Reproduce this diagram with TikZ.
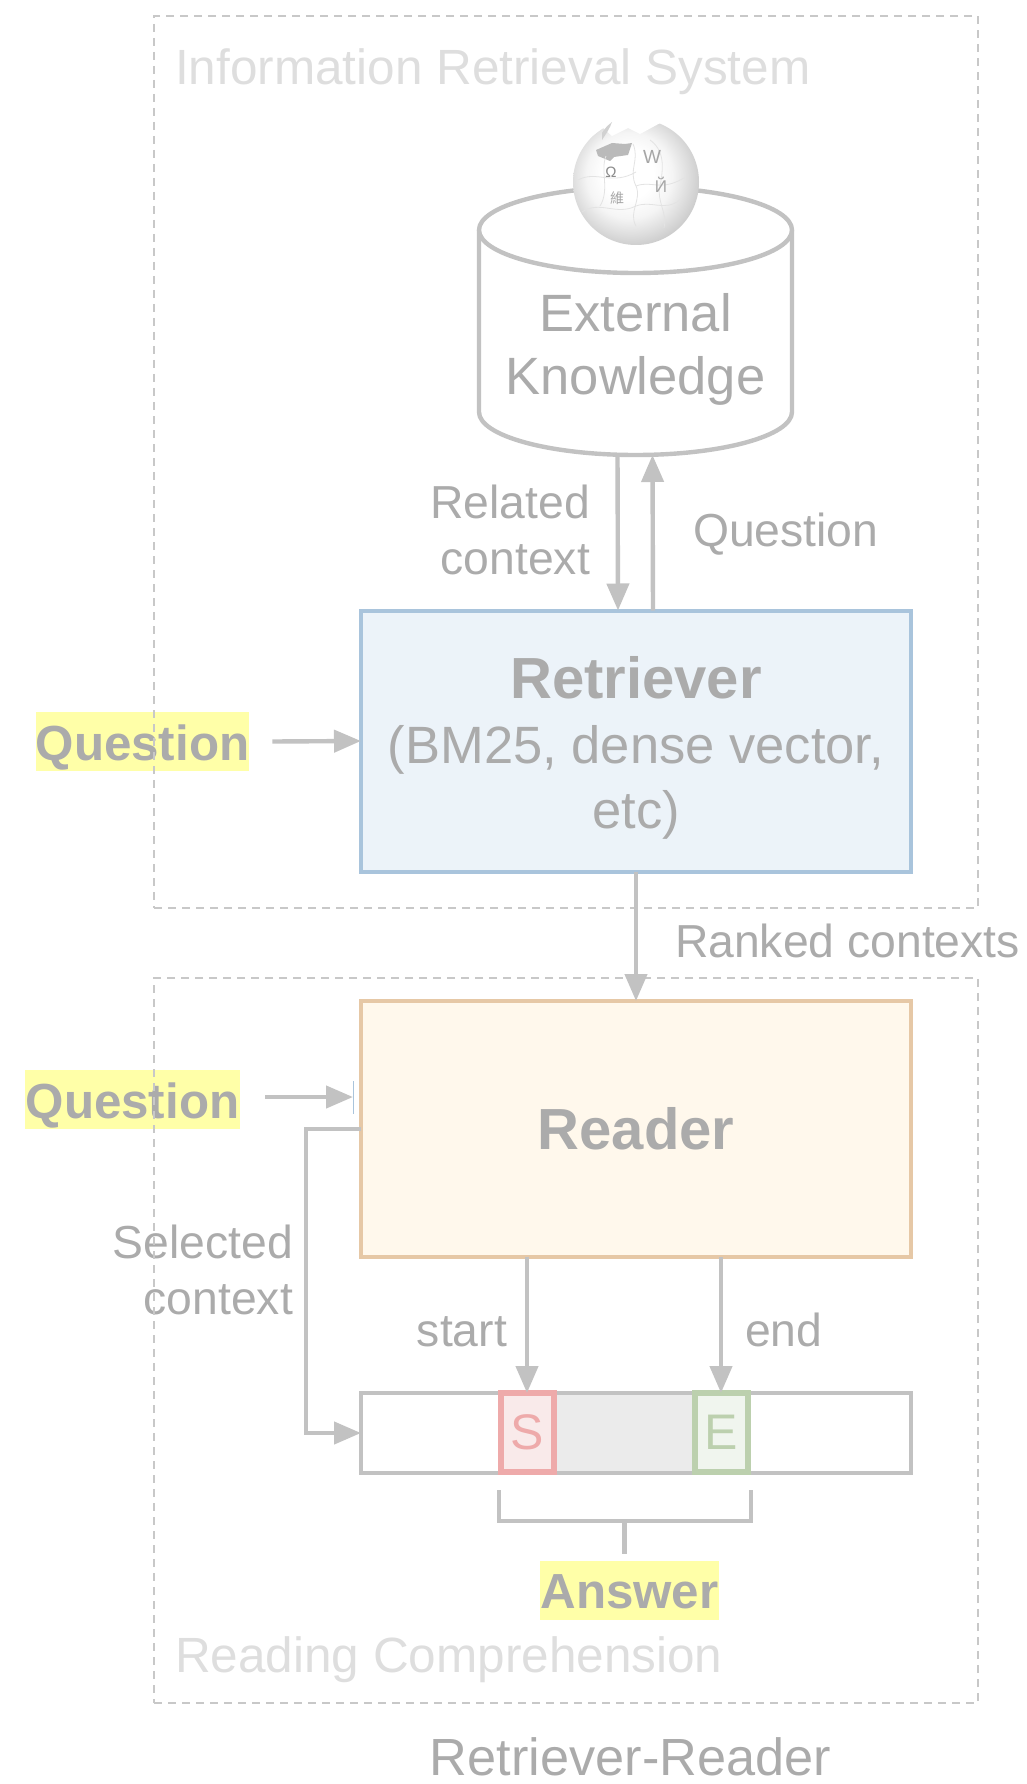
\documentclass[tikz,border=0pt]{standalone}
\usepackage{fontspec}
\setmainfont{Liberation Sans}
\newfontfamily\cjkglyph{Noto Sans CJK SC}
\usetikzlibrary{arrows.meta, positioning, calc}
\definecolor{rrtext}{HTML}{ABABAB}
\definecolor{rrfaint}{HTML}{DEDEDE}
\definecolor{rrline}{HTML}{C2C2C2}
\definecolor{rrdash}{HTML}{C8C8C8}
\definecolor{rryellow}{HTML}{FFFFA8}
\definecolor{rrblue}{HTML}{A9C4DC}
\definecolor{rrbluefill}{HTML}{ECF3F9}
\definecolor{rrorange}{HTML}{E6C8A6}
\definecolor{rrorangefill}{HTML}{FFF8EC}
\definecolor{rrred}{HTML}{EEAAAA}
\definecolor{rrredfill}{HTML}{F9EAEA}
\definecolor{rrgreen}{HTML}{BCD0AE}
\definecolor{rrgreenfill}{HTML}{F0F5EE}
\definecolor{rrspan}{HTML}{EBEBEB}
\pgfdeclareradialshading{globeshade}{\pgfpoint{-4bp}{4bp}}{color(0bp)=(white); color(10bp)=(white); color(17bp)=(black!4); color(23bp)=(black!13); color(30bp)=(black!24); color(50bp)=(black!24)}

\begin{document}
\begin{tikzpicture}[
  x=1pt, y=-1pt,
  every node/.style={inner sep=0pt, outer sep=0pt, text=rrtext},
  label/.style={align=center, font=\fontsize{46.3}{56}\selectfont},
  title/.style={text=rrfaint, anchor=base west, font=\fontsize{49.5}{60}\selectfont},
  hilite/.style={fill=rryellow, minimum height=59pt, text height=38.5pt, text depth=1pt, font=\fontsize{49.3}{60}\selectfont\bfseries},
  panel/.style={draw=rrdash, line width=2pt, dash pattern=on 8pt off 6pt, minimum width=824pt},
  block/.style={rectangle, draw=#1, line width=4pt, minimum width=550pt, align=center, font=\fontsize{52.5}{65}\selectfont},
  marker/.style={rectangle, draw=#1, line width=6pt, minimum width=53pt, minimum height=79pt, font=\fontsize{50}{60}\selectfont},
  wire/.style={draw=rrline, line width=4.4pt, line join=miter},
  puzzle/.style={draw=black!11, line width=.8pt},
  arrow/.style={wire, -{Triangle[length=27pt, width=22pt]}},
]
\useasboundingbox (0,0) rectangle (1026,1784);

% Highlighted words sit under the dashed panels
\node[hilite, minimum width=213pt] (questionA) at (142.5,741.5) {Question};
\node[hilite, minimum width=215pt] (questionB) at (132.5,1099.5) {Question};
\node[label, align=right, anchor=east] (selected) at (293,1270) {Selected\\context};

\node[panel, minimum height=892pt] (irpanel) at (566,462) {};
\node[panel, minimum height=725pt] (rcpanel) at (566,1340.5) {};
\node[title] (irtitle) at (175,85) {Information Retrieval System};
\node[title] (rctitle) at (175,1672) {Reading Comprehension};

% Knowledge store
\draw[wire, fill=white] (479,230) -- (479,412) arc[start angle=180, end angle=0, x radius=156.5, y radius=43] -- (792,230);
\draw[wire, fill=white] (635.5,230) ellipse[x radius=156.5, y radius=43];
\node[minimum width=313pt, minimum height=212pt, label, font=\fontsize{52.5}{63}\selectfont] (knowledge) at (635.5,349) {External\\Knowledge};

% Globe
\shade[shading=globeshade] (636,182) circle[radius=63];
\fill[white] (592,136) -- (603,128) -- (612,136) -- (628,128) -- (640,134) -- (662,122) -- (690,136) -- (694,116) -- (636,110) -- (588,124) -- cycle;
\fill[black!27] (596,150) -- (612,143) -- (625,144) -- (632,143) -- (628,155) -- (614,157) -- (610,161) -- (598,156) -- cycle;
\fill[black!18] (602,133) .. controls (606,126) and (610,124) .. (612,122) .. controls (610,128) and (606,134) .. (602,140) -- cycle;
\draw[puzzle] (633,144) .. controls (640,160) and (628,170) .. (636,186) .. controls (642,200) and (628,212) .. (636,226);
\draw[puzzle] (636,186) .. controls (652,180) and (660,192) .. (684,178);
\draw[puzzle] (578,180) .. controls (596,170) and (612,186) .. (636,172);
\draw[puzzle] (582,212) .. controls (600,200) and (616,216) .. (636,206) .. controls (652,200) and (664,212) .. (680,200);
\draw[puzzle] (650,140) .. controls (664,150) and (664,166) .. (660,186) .. controls (656,200) and (668,214) .. (664,228);
\draw[puzzle] (606,156) .. controls (600,170) and (610,190) .. (600,206);
\node[font=\fontsize{15}{15}\selectfont, text=black!45] (glyphomega) at (611,172) {Ω};
\node[font=\fontsize{19}{19}\selectfont, text=black!35] (glyphw) at (652,157) {W};
\node[font=\fontsize{17}{17}\selectfont, text=black!35] (glyphi) at (661,185) {Й};
\node[font=\fontsize{14}{14}\cjkglyph, text=black!35] (glyphwei) at (617,198) {維};

% Main blocks
\node[block=rrblue, fill=rrbluefill, minimum height=261pt] (retriever) at (636,741) {\rule{0pt}{55pt}{\fontsize{58}{65}\selectfont\bfseries Retriever}\\(BM25, dense vector,\\etc)};
\node[block=rrorange, fill=rrorangefill, minimum height=256pt, font=\fontsize{58}{65}\selectfont\bfseries] (reader) at (636,1129) {Reader};

% Passage strip
\node[block=rrline, fill=white, minimum height=80pt] (strip) at (636,1433) {};
\node[fill=rrspan, minimum width=136pt, minimum height=76pt] (span) at (624,1433) {};
\node[marker=rrred, fill=rrredfill, text=rrred] (startbox) at (527,1432.5) {S};
\node[marker=rrgreen, fill=rrgreenfill, text=rrgreen] (endbox) at (721,1432.5) {E};

\node[hilite, minimum width=179pt] (answer) at (629.5,1590) {Answer};
\node[anchor=base, font=\fontsize{52.3}{60}\selectfont] (caption) at (630.5,1775) {Retriever-Reader};

% Labels
\node[label, align=right, anchor=east] (related) at (590,529.5) {Related\\context};
\node[label, anchor=west] (questionC) at (693,534.5) {Question};
\node[label, anchor=west] (ranked) at (675,941) {Ranked contexts};
\node[label, anchor=base east] (startlabel) at (507,1346) {start};
\node[label, anchor=base west] (endlabel) at (745,1346) {end};

% Connectors
\coordinate (tickA) at (353,1081);
\coordinate (tickB) at (353,1114);
\coordinate (bracketL) at (499,1490);
\coordinate (bracketR) at (751,1490);
\coordinate (stemtop) at (624.5,1521);
\coordinate (stemend) at (624.5,1554);
\draw[arrow] ([xshift=-18pt]knowledge.south) -- ([xshift=-18pt]retriever.north);
\draw[arrow] ([xshift=17pt]retriever.north) -- ([xshift=17pt]knowledge.south);
\draw[arrow] ([xshift=23pt]questionA.east) -- (retriever.west);
\draw[arrow] (retriever.south) -- (reader.north);
\draw[arrow] ([xshift=25pt,yshift=2.5pt]questionB.east) -- (tickA |- 0,1097);
\draw[rrblue, line width=1pt] (tickA) -- (tickB);
\draw[arrow] (reader.west) -- ++(-55,0) |- (strip.west);
\draw[arrow] (startbox.north |- reader.south) -- (startbox.north);
\draw[arrow] (endbox.north |- reader.south) -- (endbox.north);
\draw[wire] (bracketL) |- (stemtop) -| (bracketR);
\draw[wire] (stemtop) -- (stemend);
\end{tikzpicture}
\end{document}
